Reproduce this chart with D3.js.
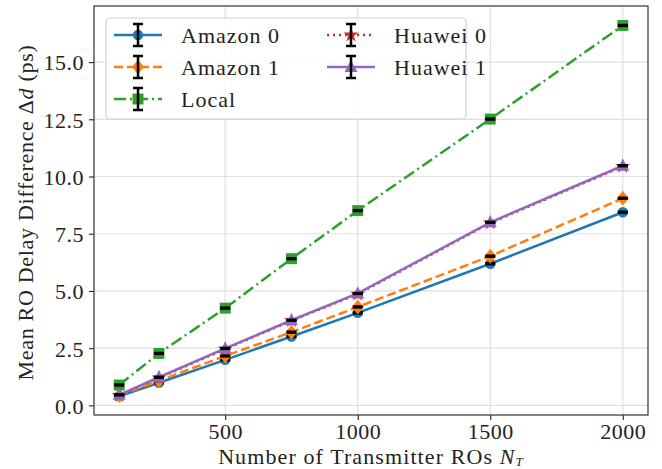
<!DOCTYPE html>
<html>
<head>
<meta charset="utf-8">
<script src="https://cdn.jsdelivr.net/npm/d3@7"></script>
<style>
  body { margin: 0; background: #fff; }
  text { font-family: "Liberation Serif", serif; fill: #222; }
</style>
</head>
<body>
<div id="vis"></div>
<script>
// data
var nT = [100, 250, 500, 750, 1000, 1500, 2000];
var amazon0 = [0.40, 0.99, 1.99, 3.01, 4.04, 6.19, 8.44];
var amazon1 = [0.43, 1.08, 2.16, 3.20, 4.30, 6.52, 9.05];
var local = [0.89, 2.27, 4.25, 6.41, 8.51, 12.51, 16.60];
var huawei0 = [0.44, 1.20, 2.46, 3.70, 4.86, 7.97, 10.44];
var huawei1 = [0.46, 1.23, 2.49, 3.72, 4.89, 8.00, 10.47];
var errs = [0.03, 0.03, 0.03, 0.03, 0.03, 0.03, 0.03];
var xTicks = [500, 1000, 1500, 2000];
var yTicks = [0, 2.5, 5, 7.5, 10, 12.5, 15];

var series = [
  { name: "Amazon 0", values: amazon0, color: "#1f77b4", dash: null, marker: "circle" },
  { name: "Amazon 1", values: amazon1, color: "#ff7f0e", dash: "9,4", marker: "diamond" },
  { name: "Local", values: local, color: "#2ca02c", dash: "12,4,2,4", marker: "square" },
  { name: "Huawei 0", values: huawei0, color: "#d62728", dash: "2,4", marker: "star" },
  { name: "Huawei 1", values: huawei1, color: "#9467bd", dash: null, marker: "triangle" }
];

var W = 662, H = 469;
var pLeft = 94, pRight = 648, pTop = 6, pBottom = 415;

var svg = d3.select("#vis").append("svg")
    .attr("width", W)
    .attr("height", H);

var x = d3.scaleLinear().domain([5, 2095]).range([pLeft, pRight]);
var y = d3.scaleLinear().domain([-0.42, 17.45]).range([pBottom, pTop]);

// grid
svg.append("g")
  .selectAll("line")
  .data(xTicks)
  .enter().append("line")
    .attr("x1", d => x(d)).attr("x2", d => x(d))
    .attr("y1", pTop).attr("y2", pBottom)
    .attr("stroke", "#e0e0e0").attr("stroke-width", 1.2);
svg.append("g")
  .selectAll("line")
  .data(yTicks)
  .enter().append("line")
    .attr("x1", pLeft).attr("x2", pRight)
    .attr("y1", d => y(d)).attr("y2", d => y(d))
    .attr("stroke", "#e0e0e0").attr("stroke-width", 1.2);

// axes
var xAxis = svg.append("g")
    .attr("transform", "translate(0," + pBottom + ")")
    .call(d3.axisBottom(x).tickValues(xTicks).tickSize(5).tickPadding(3).tickFormat(d3.format("d")));
var yAxis = svg.append("g")
    .attr("transform", "translate(" + pLeft + ",0)")
    .call(d3.axisLeft(y).tickValues(yTicks).tickSize(5).tickPadding(5).tickFormat(d3.format(".1f")));
[xAxis, yAxis].forEach(function (g) {
  g.select(".domain").remove();
  g.selectAll(".tick line").attr("stroke", "#222").attr("stroke-width", 1.1);
  g.selectAll(".tick text").style("font-family", "Liberation Serif, serif")
    .style("font-size", "22px").style("letter-spacing", "0.5px").attr("fill", "#222");
});
yAxis.selectAll(".tick text").attr("dy", "0.36em");
xAxis.selectAll(".tick text").attr("dy", "0.74em");

// frame
svg.append("rect")
    .attr("x", pLeft).attr("y", pTop)
    .attr("width", pRight - pLeft).attr("height", pBottom - pTop)
    .attr("fill", "none").attr("stroke", "#333").attr("stroke-width", 1.2);

// markers
function markerPath(type) {
  if (type === "circle") return d3.symbol(d3.symbolCircle, 85)();
  if (type === "square") return d3.symbol(d3.symbolSquare, 120)();
  if (type === "diamond") return "M0,-7.5L6,0L0,7.5L-6,0Z";
  if (type === "star") return d3.symbol(d3.symbolStar, 70)();
  return "M0,-7L6.5,5L-6.5,5Z";
}

var line = d3.line()
    .x((d, i) => x(nT[i]))
    .y(d => y(d));

var plot = svg.append("g");
series.forEach(function (s) {
  var g = plot.append("g");
  g.append("path")
    .datum(s.values)
    .attr("d", line)
    .attr("fill", "none")
    .attr("stroke", s.color)
    .attr("stroke-width", 2.5)
    .attr("stroke-dasharray", s.dash);
  g.selectAll("path.m")
    .data(s.values)
    .enter().append("path")
      .attr("class", "m")
      .attr("transform", (d, i) => "translate(" + x(nT[i]) + "," + y(d) + ")")
      .attr("d", markerPath(s.marker))
      .attr("fill", s.color);
  // error bars
  var eb = g.selectAll("g.eb")
    .data(s.values)
    .enter().append("g").attr("class", "eb");
  eb.append("line")
    .attr("x1", (d, i) => x(nT[i])).attr("x2", (d, i) => x(nT[i]))
    .attr("y1", (d, i) => y(d - errs[i])).attr("y2", (d, i) => y(d + errs[i]))
    .attr("stroke", "#000").attr("stroke-width", 2.5);
  [-1, 1].forEach(function (sg) {
    eb.append("line")
      .attr("x1", (d, i) => x(nT[i]) - 5).attr("x2", (d, i) => x(nT[i]) + 5)
      .attr("y1", (d, i) => y(d + sg * errs[i])).attr("y2", (d, i) => y(d + sg * errs[i]))
      .attr("stroke", "#000").attr("stroke-width", 2);
  });
});

// legend
var legend = svg.append("g");
legend.append("rect")
    .attr("x", 106).attr("y", 18)
    .attr("width", 360).attr("height", 101)
    .attr("rx", 4)
    .attr("fill", "rgba(255,255,255,0.8)")
    .attr("stroke", "#d0d0d0").attr("stroke-width", 1.2);

var legendPos = [
  { x: 114, y: 35 }, { x: 114, y: 67 }, { x: 114, y: 99 },
  { x: 327, y: 35 }, { x: 327, y: 67 }
];
series.forEach(function (s, i) {
  var p = legendPos[i];
  var g = legend.append("g").attr("transform", "translate(" + p.x + "," + p.y + ")");
  g.append("line")
    .attr("x1", 0).attr("x2", 48).attr("y1", 0).attr("y2", 0)
    .attr("stroke", s.color).attr("stroke-width", 2.5)
    .attr("stroke-dasharray", s.dash);
  g.append("path")
    .attr("transform", "translate(24,0)")
    .attr("d", markerPath(s.marker))
    .attr("fill", s.color);
  g.append("line")
    .attr("x1", 24).attr("x2", 24).attr("y1", -11).attr("y2", 11)
    .attr("stroke", "#000").attr("stroke-width", 2.5);
  [-11, 11].forEach(function (cy) {
    g.append("line")
      .attr("x1", 19).attr("x2", 29).attr("y1", cy).attr("y2", cy)
      .attr("stroke", "#000").attr("stroke-width", 2.5);
  });
  g.append("text")
    .attr("x", 67).attr("y", 7.5)
    .style("font-size", "22px")
    .style("letter-spacing", "1px")
    .text(s.name);
});

// axis labels
svg.append("text")
    .attr("x", (pLeft + pRight) / 2).attr("y", 464)
    .attr("text-anchor", "middle")
    .style("font-size", "22px")
    .style("letter-spacing", "1.1px")
    .call(function (t) {
      t.append("tspan").text("Number of Transmitter ROs ");
      t.append("tspan").style("font-style", "italic").text("N");
      t.append("tspan").style("font-style", "italic").style("font-size", "13px")
        .attr("dy", 2).text("T");
    });

svg.append("text")
    .attr("transform", "translate(33," + ((pTop + pBottom) / 2 + 2) + ") rotate(-90)")
    .attr("text-anchor", "middle")
    .style("font-size", "22px")
    .style("letter-spacing", "0.7px")
    .call(function (t) {
      t.append("tspan").text("Mean RO Delay Difference Δ");
      t.append("tspan").style("font-style", "italic").text("d");
      t.append("tspan").text(" (ps)");
    });
</script>
</body>
</html>
